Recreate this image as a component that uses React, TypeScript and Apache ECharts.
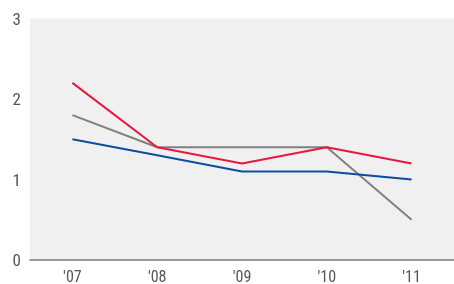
import React, { useEffect, useRef } from "react";
import * as echarts from "echarts";

const categories = ["'07", "'08", "'09", "'10", "'11"];
const redSeries = [2.2, 1.4, 1.2, 1.4, 1.2];
const graySeries = [1.8, 1.4, 1.4, 1.4, 0.5];
const blueSeries = [1.5, 1.3, 1.1, 1.1, 1.0];
const yTicks = [0, 1, 2, 3];

export default function App() {
  const ref = useRef<HTMLDivElement>(null);
  useEffect(() => {
    if (!ref.current) return;
    const chart = echarts.init(ref.current, null, { renderer: "svg" });
    const font = "'Liberation Sans Narrow', 'Roboto Condensed', Roboto, sans-serif";
    chart.setOption({
      animation: false,
      grid: {
        left: 30,
        top: 18.5,
        bottom: 23.5,
        width: 432,
        show: true,
        backgroundColor: "#f0f0f0",
        borderWidth: 0,
      },
      xAxis: {
        type: "category",
        data: categories,
        boundaryGap: true,
        axisLine: { show: true, lineStyle: { color: "#7a7a7a", width: 1.5 } },
        axisTick: { show: false },
        axisLabel: { color: "#555", fontSize: 16, fontFamily: font, margin: 8 },
      },
      yAxis: {
        type: "value",
        min: yTicks[0],
        max: yTicks[yTicks.length - 1],
        interval: 1,
        splitLine: { show: false },
        axisLine: { show: false },
        axisTick: { show: false },
        axisLabel: { color: "#555", fontSize: 17, fontFamily: font, margin: 9 },
      },
      series: [
        { type: "line", data: graySeries, symbol: "none", lineStyle: { color: "#808080", width: 2 } },
        { type: "line", data: blueSeries, symbol: "none", lineStyle: { color: "#0a4ea0", width: 2 } },
        { type: "line", data: redSeries, symbol: "none", lineStyle: { color: "#e8173f", width: 2 } },
      ],
    });
    return () => chart.dispose();
  }, []);
  return (
    <div
      ref={ref}
      style={{ position: "fixed", left: 0, top: 0, width: 454, height: 284 }}
    />
  );
}
